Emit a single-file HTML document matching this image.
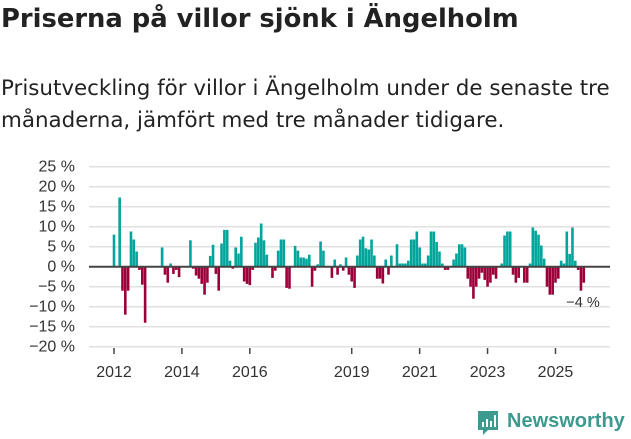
<!DOCTYPE html>
<html><head><meta charset="utf-8"><style>
body{margin:0;width:631px;height:439px;background:#fff;overflow:hidden;font-family:"DejaVu Sans","Liberation Sans",sans-serif;color:#222}
h1{position:absolute;left:1px;top:4px;margin:0;font-size:25.8px;font-weight:bold}
p{position:absolute;left:1px;top:73px;margin:0;font-size:21.4px;line-height:32px;width:630px}
svg{position:absolute;left:0;top:0}
</style></head><body>
<h1>Priserna på villor sjönk i Ängelholm</h1>
<p>Prisutveckling för villor i Ängelholm under de senaste tre månaderna, jämfört med tre månader tidigare.</p>
<svg id="chart" width="631" height="439" style="font-family:'Liberation Sans',sans-serif"></svg>
<div style="position:absolute;left:476px;top:409px;width:155px;height:28px">
<svg width="26" height="28" style="position:absolute;left:0;top:0"><path d="M2 2h20v19H12l-5 5v-5H2z" fill="#3d9a8f"/><rect x="6" y="13" width="2" height="5" fill="#fff"/><rect x="10" y="10" width="2" height="8" fill="#fff"/><rect x="14" y="12" width="2" height="6" fill="#fff"/><rect x="18" y="6" width="2" height="12" fill="#fff"/></svg>
<span style="position:absolute;left:31px;top:1px;font-size:20px;font-weight:bold;color:#3d9a8f;font-family:'Liberation Sans',sans-serif">Newsworthy</span></div>
<script>
const values=[8,0,17.3,-6,-12,-6,8.8,6.8,3.8,-0.8,-4.5,-14,0,0,0,0,0,4.8,-2,-4,0.8,-1.8,-0.8,-2.6,0,0,0,6.6,-0.5,-2.2,-3,-4.3,-7,-4,2.7,5.5,-1.8,-6,5.8,9.2,9.2,1.5,-0.5,4.8,3.3,7.5,-3.7,-4.3,-4.6,-0.8,6,7.3,10.8,6.6,3,0,-2.8,-1,4,6.8,6.8,-5.3,-5.5,0,5.2,4,2.3,2.3,2,3,-5,-1,0.6,6.3,4,0,0,-2.8,1.8,-2,0.6,-1,2.3,-2,-3.7,-5.3,2.8,6.8,7.5,4.6,4.3,6.8,2.8,-3,-3,-4.2,1.8,-2,2.8,0,5.6,0.8,0.8,0.8,1.5,6.8,6.8,8.8,4.8,0.8,0.8,2.8,8.8,8.8,6.2,3.8,0.8,-0.8,-0.8,0,1.8,3.3,5.6,5.6,4.8,-3,-5,-8,-5,-3,-1.5,-3.3,-5,-4,-2,-3,0,0.8,7.8,8.8,8.8,-2,-4,-2.8,0,-4,-4,0.8,9.8,9,8,5.3,2,-5,-7,-7,-4,-3,1.5,0.8,8.8,3.2,9.8,1.5,-0.8,-6,-4];
const yTicks=[25,20,15,10,5,0,-5,-10,-15,-20];
const xYears=[2012,2014,2016,2019,2021,2023,2025];
const startYear=2012;
const lastLabel="−4 %";
const NS="http://www.w3.org/2000/svg";
const svg=document.getElementById('chart');
const y=v=>266.7-v*4;
const x=i=>114+i*2.83;
function mk(t,a){const e=document.createElementNS(NS,t);for(const k in a)e.setAttribute(k,a[k]);svg.appendChild(e);return e;}
yTicks.forEach(t=>{
  const g=mk('line',{x1:89,x2:610,y1:y(t),y2:y(t),stroke:'#e0e0e0','stroke-width':1.5});
  
  
  const l=mk('text',{x:75,y:y(t)+5,'text-anchor':'end','font-size':16,fill:'#333'});
  l.textContent=(t<0?'−'+(-t):t)+' %';
  
  
});
values.forEach((v,i)=>{
  if(!v)return;
  const r=mk('rect',{x:x(i)-1.3,width:2.6,y:v>0?y(v):y(0),height:Math.abs(v)*4,fill:v>0?'#00a59b':'#9b0039'});
  
  
});
const z=mk('line',{x1:89,x2:610,y1:y(0),y2:y(0),stroke:'#444','stroke-width':2});


xYears.forEach(yr=>{
  const xi=x((yr-startYear)*12);
  const t=mk('line',{x1:xi,x2:xi,y1:348,y2:354,stroke:'#444','stroke-width':1.5});
  
  
  const l=mk('text',{x:xi,y:377,'text-anchor':'middle','font-size':16,fill:'#333'});
  l.textContent=yr;
  
  
});
const ll=mk('text',{x:583,y:307,'text-anchor':'middle','font-size':14.5,fill:'#333'});
ll.textContent=lastLabel;


</script>
</body></html>
